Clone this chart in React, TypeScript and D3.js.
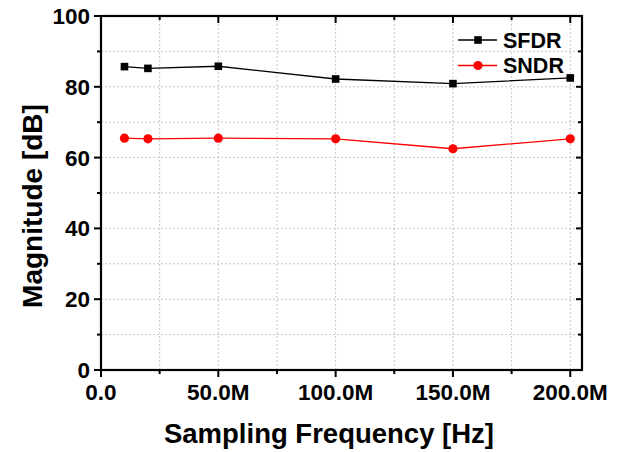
import React from "react";
import * as d3 from "d3";

const freqs = [10e6, 20e6, 50e6, 100e6, 150e6, 200e6];
const sfdr = [85.7, 85.2, 85.8, 82.2, 80.9, 82.5];
const sndr = [65.5, 65.3, 65.5, 65.3, 62.5, 65.3];
const xTicks = [0, 50e6, 100e6, 150e6, 200e6];
const xTickLabels = ["0.0", "50.0M", "100.0M", "150.0M", "200.0M"];
const xMinor = [25e6, 75e6, 125e6, 175e6];
const yTicks = [0, 20, 40, 60, 80, 100];
const yMinor = [10, 30, 50, 70, 90];
const seriesNames = ["SFDR", "SNDR"];
const seriesColors = ["#000000", "#ff0000"];

const W = 634, H = 452;
const M = { left: 101, right: 52, top: 16, bottom: 82 };
const FONT = "'Liberation Sans', Arial, sans-serif";

export default function App() {
  const x = d3.scaleLinear().domain([0, 205e6]).range([M.left, W - M.right]);
  const y = d3.scaleLinear().domain([0, 100]).range([H - M.bottom, M.top]);
  const line = d3.line<number>().x((_, i) => x(freqs[i])).y((d) => y(d));
  const x0 = M.left, x1 = W - M.right, y0 = H - M.bottom, y1 = M.top;
  const grid = "#b8b8b8";
  const series = [sfdr, sndr];
  return (
    <svg width={W} height={H} style={{ position: "absolute", left: 0, top: 0, background: "#fff" }}>
      {/* grid */}
      {[...xTicks.slice(1), ...xMinor].map((t) => (
        <line key={"gx" + t} x1={x(t)} x2={x(t)} y1={y0} y2={y1} stroke={grid} strokeWidth={0.8} strokeDasharray="2,2" />
      ))}
      {[...yTicks.slice(1, -1), ...yMinor].map((t) => (
        <line key={"gy" + t} x1={x0} x2={x1} y1={y(t)} y2={y(t)} stroke={grid} strokeWidth={0.8} strokeDasharray="2,2" />
      ))}
      {/* frame */}
      <rect x={x0} y={y1} width={x1 - x0} height={y0 - y1} fill="none" stroke="#000" strokeWidth={2.2} />
      {/* left ticks */}
      {yTicks.map((t) => <line key={"ly" + t} x1={x0 - 7} x2={x0} y1={y(t)} y2={y(t)} stroke="#000" strokeWidth={2} />)}
      {yMinor.map((t) => <line key={"lym" + t} x1={x0 - 4} x2={x0} y1={y(t)} y2={y(t)} stroke="#000" strokeWidth={2} />)}
      {/* right ticks */}
      {yTicks.map((t) => <line key={"ry" + t} x1={x1 - 6} x2={x1} y1={y(t)} y2={y(t)} stroke="#000" strokeWidth={2} />)}
      {yMinor.map((t) => <line key={"rym" + t} x1={x1 - 4} x2={x1} y1={y(t)} y2={y(t)} stroke="#000" strokeWidth={2} />)}
      {/* bottom ticks */}
      {xTicks.map((t) => <line key={"bx" + t} x1={x(t)} x2={x(t)} y1={y0} y2={y0 + 7} stroke="#000" strokeWidth={2} />)}
      {xMinor.map((t) => <line key={"bxm" + t} x1={x(t)} x2={x(t)} y1={y0} y2={y0 + 4} stroke="#000" strokeWidth={2} />)}
      {/* top ticks */}
      {xTicks.map((t) => <line key={"tx" + t} x1={x(t)} x2={x(t)} y1={y1} y2={y1 + 7} stroke="#000" strokeWidth={2} />)}
      {xMinor.map((t) => <line key={"txm" + t} x1={x(t)} x2={x(t)} y1={y1} y2={y1 + 4} stroke="#000" strokeWidth={2} />)}
      {/* tick labels */}
      {yTicks.map((t) => (
        <text key={"yl" + t} x={x0 - 11} y={y(t) + 8} textAnchor="end" fontFamily={FONT} fontWeight="bold" fontSize={22.5} fill="#000">{t}</text>
      ))}
      {xTicks.map((t, i) => (
        <text key={"xl" + t} x={x(t)} y={y0 + 30} textAnchor="middle" fontFamily={FONT} fontWeight="bold" fontSize={22.5} fill="#000">{xTickLabels[i]}</text>
      ))}
      {/* axis titles */}
      <text x={329} y={443} textAnchor="middle" fontFamily={FONT} fontWeight="bold" fontSize={27.5} fill="#000">Sampling Frequency [Hz]</text>
      <text transform={`translate(42,206) rotate(-90)`} textAnchor="middle" fontFamily={FONT} fontWeight="bold" fontSize={28} fill="#000">Magnitude [dB]</text>
      {/* series */}
      {series.map((s, k) => (
        <g key={"s" + k}>
          <path d={line(s) || ""} fill="none" stroke={seriesColors[k]} strokeWidth={1.3} />
          {s.map((v, i) =>
            k === 0 ? (
              <rect key={i} x={x(freqs[i]) - 3.8} y={y(v) - 3.8} width={7.6} height={7.6} fill={seriesColors[k]} />
            ) : (
              <circle key={i} cx={x(freqs[i])} cy={y(v)} r={4.6} fill={seriesColors[k]} />
            )
          )}
        </g>
      ))}
      {/* legend */}
      {seriesNames.map((n, k) => {
        const ly = 40 + k * 25.5;
        return (
          <g key={"lg" + k}>
            <line x1={458} x2={497} y1={ly} y2={ly} stroke={seriesColors[k]} strokeWidth={1.3} />
            {k === 0 ? (
              <rect x={478 - 3.8} y={ly - 3.8} width={7.6} height={7.6} fill={seriesColors[k]} />
            ) : (
              <circle cx={478} cy={ly} r={4.6} fill={seriesColors[k]} />
            )}
            <text x={503} y={ly + 7.5} fontFamily={FONT} fontWeight="bold" fontSize={21.5} fill="#000">{n}</text>
          </g>
        );
      })}
    </svg>
  );
}
